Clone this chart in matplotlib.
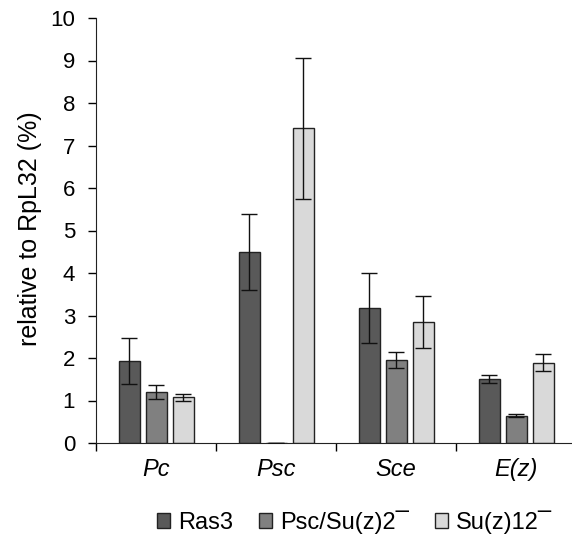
import matplotlib
matplotlib.use("Agg")
import matplotlib.pyplot as plt
import numpy as np

plt.rcParams['font.family'] = ['Liberation Sans', 'DejaVu Sans']

genes = ['Pc', 'Psc', 'Sce', 'E(z)']
series = ['Ras3', 'Psc/Su(z)2¯', 'Su(z)12¯']
colors = ['#595959', '#808080', '#d9d9d9']

# values (% of RpL32)
ras3 = [1.93, 4.49, 3.18, 1.51]
ras3_err = [0.55, 0.90, 0.82, 0.09]
psc_su = [1.20, 0.0, 1.95, 0.64]
psc_su_err = [0.17, 0.0, 0.18, 0.035]
su12 = [1.08, 7.41, 2.85, 1.89]
su12_err = [0.08, 1.66, 0.62, 0.20]

vals = [ras3, psc_su, su12]
errs = [ras3_err, psc_su_err, su12_err]

fig = plt.figure(figsize=(5.72, 5.5), dpi=100)
ax = fig.add_axes([96 / 572, 1 - 443 / 550, 480 / 572, 425 / 550])

x = np.arange(len(genes))
offsets = [-0.225, 0.0, 0.225]
width = 0.175
for i in range(3):
    ax.bar(x + offsets[i], vals[i], width, color=colors[i], edgecolor='#222222',
           linewidth=1.0, label=series[i], zorder=2)
    ax.errorbar(x + offsets[i], vals[i], yerr=errs[i], fmt='none',
                ecolor='#111111', elinewidth=1.0, capsize=6, capthick=1.0, zorder=3)

ax.set_xlim(-0.5, 3.5)
ax.set_ylim(0, 10)
ax.set_yticks(range(0, 11))
ax.tick_params(axis='y', labelsize=16, length=6, direction='out', width=1, pad=9)
ax.set_xticks(x)
ax.set_xticklabels(genes, fontsize=17, style='italic')
ax.tick_params(axis='x', length=0, pad=11)
ax.set_xticks(np.arange(-0.5, 4.0, 1.0), minor=True)
ax.tick_params(axis='x', which='minor', length=6, width=1, direction='out')
ax.spines['top'].set_visible(False)
ax.spines['right'].set_visible(False)
for s in ['left', 'bottom']:
    ax.spines[s].set_color('#222222')
ax.set_ylabel('relative to RpL32 (%)', fontsize=18)
ax.yaxis.set_label_coords(-0.112, 0.505)

fig.legend(loc='center', bbox_to_anchor=(0.62, 1 - 522 / 550), ncol=3,
           frameon=False, fontsize=17, handlelength=0.55, handleheight=0.55,
           handletextpad=0.35, columnspacing=1.1)

fig.savefig('out.png', dpi=100)
